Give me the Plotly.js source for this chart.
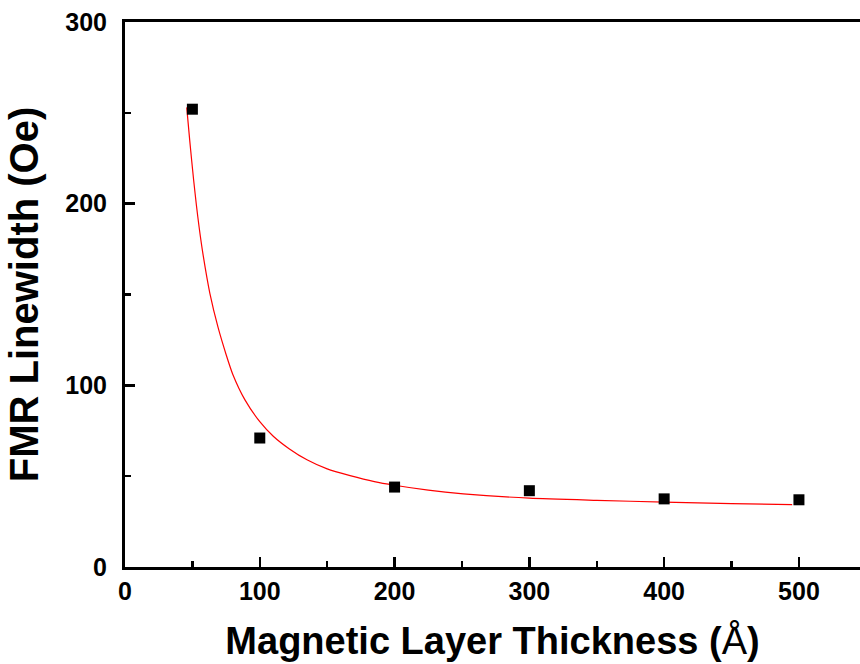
<!DOCTYPE html>
<html>
<head>
<meta charset="utf-8">
<script src="https://cdn.plot.ly/plotly-3.0.1.min.js"></script>
<style>
  html, body { margin: 0; padding: 0; background: #fff; }
  #chart { width: 860px; height: 664px; }
</style>
</head>
<body>
<div id="chart"></div>
<script>
// Measured FMR linewidth versus magnetic layer thickness
const thickness = [50, 100, 200, 300, 400, 500];       // Å
const linewidth = [252, 71, 44, 42, 37.5, 37];          // Oe

// Fitted decay curve, sampled along its length
const fitThickness = [45.8, 48, 49.5, 51, 53, 55, 58, 63, 69, 75, 80, 89, 100, 110, 122, 135, 150, 167, 185, 200, 225, 251, 300, 350, 400, 450, 495];
const fitLinewidth = [253, 235, 223.5, 212.5, 199, 187, 171.5, 150.5, 132, 117, 106, 92, 80, 72, 65, 59, 54, 50.3, 47, 45, 42.3, 40.3, 37.9, 36.7, 35.7, 34.9, 34.3];

const xTickVals = [0, 100, 200, 300, 400, 500];
const yTickVals = [0, 100, 200, 300];

const tickFont = { family: 'Liberation Sans, Arial, sans-serif', size: 25, color: '#000', weight: 'bold' };
const xTitleFont = { family: 'Liberation Sans, Arial, sans-serif', size: 38, color: '#000', weight: 'bold' };
const yTitleFont = { family: 'Liberation Sans, Arial, sans-serif', size: 40, color: '#000', weight: 'bold' };

const traces = [
  {
    x: fitThickness,
    y: fitLinewidth,
    mode: 'lines',
    line: { color: '#ff0000', width: 1.2, shape: 'spline', smoothing: 0.6 },
    hoverinfo: 'skip',
    showlegend: false
  },
  {
    x: thickness,
    y: linewidth,
    mode: 'markers',
    marker: { symbol: 'square', size: 11, color: '#000' },
    showlegend: false
  }
];

const layout = {
  width: 860,
  height: 664,
  margin: { l: 125, r: 0, t: 22, b: 97 },
  paper_bgcolor: '#fff',
  plot_bgcolor: '#fff',
  xaxis: {
    range: [0, 545.3],
    tickvals: xTickVals,
    ticktext: xTickVals.map(String),
    ticks: 'inside',
    ticklen: 10,
    tickwidth: 2.5,
    tickcolor: '#000',
    minor: { dtick: 50, ticks: 'inside', ticklen: 6, tickwidth: 2.5, tickcolor: '#000' },
    showline: true,
    linewidth: 3,
    linecolor: '#000',
    mirror: true,
    showgrid: false,
    zeroline: false,
    tickfont: tickFont,
    ticklabelstandoff: 0,
    title: {
      text: 'Magnetic Layer Thickness (<span style="font-weight:normal">Å</span>)',
      font: xTitleFont,
      standoff: 24
    },
    automargin: false
  },
  yaxis: {
    range: [0, 300],
    tickvals: yTickVals,
    ticktext: yTickVals.map(String),
    ticks: 'inside',
    ticklen: 10,
    tickwidth: 2.5,
    tickcolor: '#000',
    minor: { dtick: 50, ticks: 'inside', ticklen: 6, tickwidth: 2.5, tickcolor: '#000' },
    showline: true,
    linewidth: 3,
    linecolor: '#000',
    mirror: false,
    showgrid: false,
    zeroline: false,
    tickfont: tickFont,
    ticklabelstandoff: 10,
    title: {
      text: 'FMR Linewidth (Oe)',
      font: yTitleFont,
      standoff: 15
    },
    automargin: false
  }
};

Plotly.newPlot('chart', traces, layout, { staticPlot: true, displayModeBar: false });
</script>
</body>
</html>
